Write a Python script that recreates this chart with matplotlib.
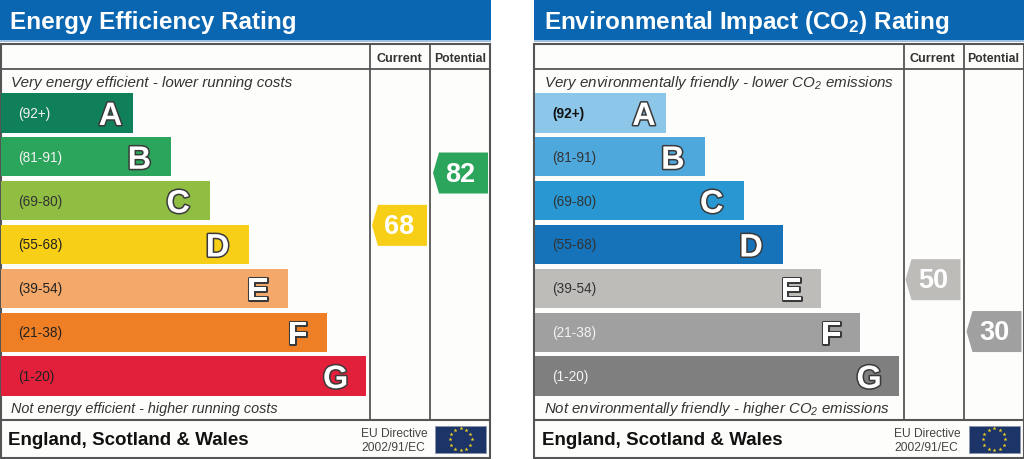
import numpy as np
import matplotlib
matplotlib.use("Agg")
import matplotlib.pyplot as plt
import matplotlib.patheffects as pe
from matplotlib.patches import Rectangle, Polygon

plt.rcParams['font.family'] = ['Liberation Sans', 'DejaVu Sans']
plt.rcParams['mathtext.default'] = 'regular'

# -------- DATA -------- #
letters = ["A", "B", "C", "D", "E", "F", "G"]
band_labels = ["(92+)", "(81-91)", "(69-80)", "(55-68)", "(39-54)", "(21-38)", "(1-20)"]
band_high = [100, 91, 80, 68, 54, 38, 20]
band_low = [92, 81, 69, 55, 39, 21, 1]

energy_title = "Energy Efficiency Rating"
energy_top = "Very energy efficient - lower running costs"
energy_bottom = "Not energy efficient - higher running costs"
energy_colors = ["#10805a", "#2ba55b", "#8fbe43", "#f7cf17", "#f4a96b", "#ee7f25", "#e2203c"]
energy_label_colors = ["#f2f2f2", "#f2f2f2", "#333333", "#222222", "#222222", "#222222", "#222222"]
energy_current = 68
energy_potential = 82

env_title = "Environmental Impact (CO$_2$) Rating"
env_top = "Very environmentally friendly - lower CO$_2$ emissions"
env_bottom = "Not environmentally friendly - higher CO$_2$ emissions"
env_colors = ["#8cc6e9", "#4fa8dc", "#2897d2", "#1673b9", "#bdbcb9", "#a0a0a0", "#7f7f7f"]
env_label_colors = ["#111111", "#333333", "#333333", "#333333", "#333333", "#f2f2f2", "#f2f2f2"]
env_current = 50
env_potential = 30

footer = "England, Scotland & Wales"
directive = ["EU Directive", "2002/91/EC"]

# -------- LAYOUT (pixels) -------- #
LINE = "#555555"
BAR_TOP = 94.3
BAR_H = 39.3
BAR_STEP = 43.85
FIRST_LEN = 131.5
LEN_STEP = 38.85
# the big letter sits this far in from the end of its bar
LETTER_INSET = [22, 32, 32, 31.5, 30, 29, 30]


def px(size):
    return size * 0.72


fig = plt.figure(figsize=(10.24, 4.6), dpi=100, facecolor="white")
ax = fig.add_axes([0, 0, 1, 1])
ax.set_xlim(0, 1024)
ax.set_ylim(460, 0)
ax.axis("off")


def band_of(value):
    return [lo <= value <= hi for lo, hi in zip(band_low, band_high)].index(True)


def rating_to_y(value):
    # each band has its own height, so the scale is piecewise
    i = band_of(value)
    top = BAR_TOP + i * BAR_STEP
    return np.interp(value, [band_low[i], band_high[i]], [top + BAR_H, top])


def arrow(x0, value, colors):
    y = rating_to_y(value) + 0.5
    x1, h = x0 + 55, 20.5
    pts = [(x0, y), (x0 + 6, y - h), (x1, y - h), (x1, y + h), (x0 + 6, y + h)]
    ax.add_patch(Polygon(pts, closed=True, fc=colors[band_of(value)], ec="none", zorder=3))
    ax.text(x0 + 27.5, y + 0.5, str(value), color="white", fontsize=px(27), fontweight="bold",
            ha="center", va="center", zorder=4)


def hline(x0, x1, y, lw):
    ax.plot([x0, x1], [y, y], color=LINE, lw=lw, zorder=2, solid_capstyle="butt")


def vline(x, y0, y1):
    ax.plot([x, x], [y0, y1], color=LINE, lw=1.3, zorder=2, solid_capstyle="butt")


def panel(x, title, top_text, bottom_text, bottom_size, colors, label_colors, first_weight, current, potential):
    right = x + 490
    col1, col2 = x + 370, x + 430
    # title strip
    ax.add_patch(Rectangle((x, 0), 491, 41, fc="#0a66b0", ec="none"))
    ax.add_patch(Rectangle((x, 41), 491, 1.5, fc="#9cc2e0", ec="none"))
    ax.text(x + 10, 28.5, title, color="white", fontsize=px(24.3), fontweight="bold",
            va="baseline", ha="left")
    # frame
    ax.add_patch(Rectangle((x + 0.5, 44.5), 489.5, 414.5, fc="#fdfdfb", ec=LINE, lw=1.5, zorder=1))
    hline(x, right, 69.5, 1.3)
    hline(x, right, 420.5, 1.5)
    vline(col1, 45, 420)
    vline(col2, 45, 420)
    ax.text((col1 + col2) / 2 - 1, 58.5, "Current", color="#333333", fontsize=px(12.6), fontweight="bold",
            ha="center", va="center")
    ax.text((col2 + right) / 2, 58.5, "Potential", color="#333333", fontsize=px(12.2), fontweight="bold",
            ha="center", va="center")
    ax.text(x + 11, 82.5, top_text, color="#333333", fontsize=px(15.1), style="italic", va="center")
    ax.text(x + 11, 409.5, bottom_text, color="#333333", fontsize=px(bottom_size), style="italic", va="center")
    # bands
    for i, letter in enumerate(letters):
        top = BAR_TOP + i * BAR_STEP
        length = FIRST_LEN + i * LEN_STEP
        ax.add_patch(Rectangle((x + 1, top), length, BAR_H, fc=colors[i], ec="none", zorder=2))
        ax.text(x + 18.5, top + BAR_H / 2, band_labels[i], color=label_colors[i], fontsize=px(13.6),
                fontweight=first_weight if i == 0 else "normal", va="center", ha="left", zorder=3)
        ax.text(x + 1 + length - LETTER_INSET[i], top + BAR_H / 2 + 12, letter, color="white", fontsize=px(32.5),
                fontweight="bold", ha="center", va="baseline", zorder=3,
                path_effects=[pe.withStroke(linewidth=2.2, foreground="#3a3a3a")])
    arrow(col1 + 2, current, colors)
    arrow(col2 + 3, potential, colors)
    # footer
    ax.text(x + 8, 440.5, footer, color="#111111", fontsize=px(18.8), fontweight="bold", va="center")
    ax.text(x + 361, 434.5, directive[0], color="#444444", fontsize=px(12), va="center")
    ax.text(x + 361, 448, directive[1], color="#444444", fontsize=px(12), va="center")
    # EU flag
    ax.add_patch(Rectangle((x + 435, 427), 51, 26.5, fc="#1d3468", ec="#8a93a8", lw=0.6, zorder=2))
    ang = np.deg2rad(np.arange(12) * 30)
    ax.scatter(x + 460.5 + 11 * np.sin(ang), 440.2 - 11 * np.cos(ang), marker="*", s=9,
               color="#f2d21c", linewidths=0, zorder=3)


panel(0, energy_title, energy_top, energy_bottom, 14.45, energy_colors, energy_label_colors, "normal",
      energy_current, energy_potential)
panel(533.5, env_title, env_top, env_bottom, 15.05, env_colors, env_label_colors, "bold",
      env_current, env_potential)

fig.savefig("out.png", dpi=100)
